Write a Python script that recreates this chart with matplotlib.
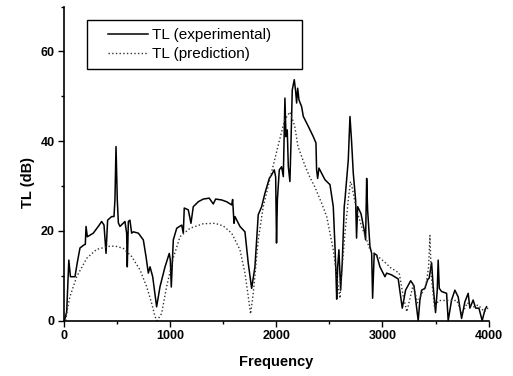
import matplotlib
matplotlib.use("Agg")
import matplotlib.pyplot as plt
from matplotlib.patches import Rectangle
from matplotlib.ticker import MultipleLocator

plt.rcParams["font.family"] = ["Liberation Sans", "DejaVu Sans"]

# measured transmission loss (solid line)
freq_exp = [0, 14, 30, 50, 65, 108, 130, 155, 193, 205, 212, 224, 280, 327, 359, 381,
            400, 415, 453, 475, 484, 494, 506, 516, 531, 578, 594, 600, 610, 625, 641,
            657, 704, 751, 776, 798, 814, 839, 876, 908, 955, 995, 1005, 1014, 1033,
            1065, 1112, 1127, 1136, 1174, 1199, 1221, 1268, 1315, 1371, 1409, 1431,
            1488, 1535, 1582, 1591, 1604, 1613, 1660, 1707, 1738, 1770, 1792, 1801,
            1832, 1864, 1895, 1936, 1958, 1983, 1996, 2004, 2012, 2030, 2052, 2068,
            2083, 2093, 2105, 2115, 2130, 2140, 2152, 2171, 2184, 2193, 2203, 2215,
            2240, 2256, 2303, 2350, 2375, 2381, 2391, 2403, 2460, 2507, 2538, 2554,
            2563, 2570, 2579, 2591, 2607, 2622, 2641, 2648, 2679, 2695, 2710, 2726,
            2748, 2757, 2767, 2798, 2829, 2842, 2852, 2861, 2883, 2899, 2908, 2923,
            2946, 2977, 3024, 3040, 3087, 3149, 3187, 3218, 3266, 3297, 3337, 3353,
            3369, 3400, 3425, 3440, 3463, 3478, 3500, 3516, 3525, 3535, 3557, 3604,
            3619, 3651, 3682, 3713, 3745, 3776, 3807, 3823, 3854, 3877, 3908, 3939,
            3964, 3980]
tl_exp = [0, 0.5, 2, 13.5, 9.8, 9.8, 13, 16.2, 16.9, 17, 21, 18.7, 19.5, 21, 22.1, 21.3,
          15.0, 22.4, 23.2, 23.2, 27, 38.8, 26.9, 21.8, 21, 22.1, 19.5, 12.0, 22.1, 22.4,
          19.5, 19.8, 19.5, 18, 14.3, 10.6, 12.0, 9.8, 3.1, 7.6, 12.0, 15, 13.5, 7.5, 18,
          20.6, 21.3, 19.5, 25.1, 24.7, 21.7, 25.4, 26.5, 27.1, 27.3, 26, 27.1,
          26.9, 26.5, 25.8, 27, 21.7, 23.2, 21, 19.8, 12.8, 7.2, 10.6, 12,
          23.6, 25.4, 28.4, 31.7, 32.5, 33.6, 32, 17.3, 26.9, 33.6, 34.3, 32.1,
          49.6, 41, 42.5, 34.3, 31, 39.6, 51.4, 53.7, 51.1, 48.5, 51.8, 49.2,
          47.7, 45.5, 43.3, 41, 39.6, 33.6, 31.7, 34, 31.4, 30.3, 25.4, 16.5,
          10.6, 4.8, 12, 15.8, 6.8, 12.8, 25.4, 27, 35.8, 45.5, 40, 32.9,
          26.9, 18.4, 25.4, 23.9, 20.2, 18, 31.7, 24.7, 16.5, 15, 5.0, 15,
          14.6, 12, 9.8, 10.6, 10.2, 9.3, 2.8, 6.8, 8.9, 7.8, 0, 4.6,
          6.8, 7.2, 9.1, 9.5, 12.9, 7.6, 1.8, 6.8, 13.5, 7.2, 6.5, 6.1,
          0, 4.6, 6.8, 5.3, 0.5, 4.2, 6.1, 2.8, 4.6, 2.8, 2.8, 0,
          2.4, 3.1]

# predicted transmission loss (dotted line)
freq_pred = [20, 40, 61, 124, 218, 312, 437, 490, 563, 641, 720, 782, 829, 861, 880,
             923, 970, 1033, 1096, 1190, 1315, 1425, 1503, 1582, 1660, 1707, 1738,
             1760, 1785, 1832, 1879, 1936, 2017, 2080, 2130, 2174, 2206, 2268, 2315,
             2363, 2428, 2476, 2507, 2538, 2563, 2585, 2601, 2617, 2648, 2679, 2700,
             2710, 2757, 2804, 2852, 2883, 2950, 3033, 3077, 3158, 3200, 3230, 3260,
             3290, 3330, 3370, 3410, 3435, 3447, 3460, 3490, 3530, 3600, 3700, 3750,
             3800, 3850, 3900, 3960, 4000]
tl_pred = [0, 3, 5.4, 9.8, 13.9, 15.9, 16.6, 16.6, 16.1, 14.3, 11.3, 7.6, 3.9, 0.9, 0,
           1.6, 7.6, 14, 18.7, 20.6, 21.6, 21.7, 21.1, 19.5, 15.8, 10.6, 5.4,
           1.5, 6.1, 18, 25.4, 31, 38.8, 44.7, 46.5, 43.5, 38.8, 34.8, 32.1,
           29.9, 26.2, 23.2, 19.5, 15.8, 11.3, 7.6, 5, 10.6, 19.5, 26.9, 31,
           30.3, 24.7, 21, 18, 15.8, 14.5, 12.8, 11.8, 10.6, 5, 2, 5,
           8, 4, 6, 8, 12, 19, 10, 3, 4.5, 4.5, 4.5, 1.5,
           4, 3, 3.5, 2, 3]

fig = plt.figure(figsize=(5.13, 3.76), dpi=100)
ax = fig.add_axes([0.1238, 0.1471, 0.8288, 0.8356])

ax.plot(freq_exp, tl_exp, color="black", linewidth=1.1, label="TL (experimental)")
ax.plot(freq_pred, tl_pred, color="#333333", linestyle=":", linewidth=1.0,
        label="TL (prediction)")

ax.set_xlim(0, 4000)
ax.set_ylim(0, 70)
ax.xaxis.set_major_locator(MultipleLocator(1000))
ax.xaxis.set_minor_locator(MultipleLocator(500))
ax.yaxis.set_major_locator(MultipleLocator(20))
ax.yaxis.set_minor_locator(MultipleLocator(10))
ax.tick_params(which="major", direction="out", length=4.5, width=1.0, pad=2,
               labelsize=9)
ax.tick_params(which="minor", direction="out", length=2.5, width=1.0)
for lab in ax.get_xticklabels() + ax.get_yticklabels():
    lab.set_fontweight("bold")

for side in ("top", "right"):
    ax.spines[side].set_visible(False)
for side in ("left", "bottom"):
    ax.spines[side].set_linewidth(1.2)

ax.set_xlabel("Frequency", fontsize=10.5, fontweight="bold")
ax.set_ylabel("TL (dB)", fontsize=10.5, fontweight="bold")
ax.xaxis.set_label_coords(0.5, -0.11)
ax.yaxis.set_label_coords(-0.066, 0.44)

ax.add_patch(Rectangle((0.056, 0.800), 0.504, 0.157, transform=ax.transAxes,
                       fill=False, edgecolor="black", linewidth=1.0))
ax.legend(loc="upper left", bbox_to_anchor=(0.1047, 0.93), frameon=False,
          fontsize=11, handlelength=2.6, handletextpad=0.3, borderpad=0,
          borderaxespad=0, labelspacing=0.3)

fig.savefig("out.png", dpi=100)
